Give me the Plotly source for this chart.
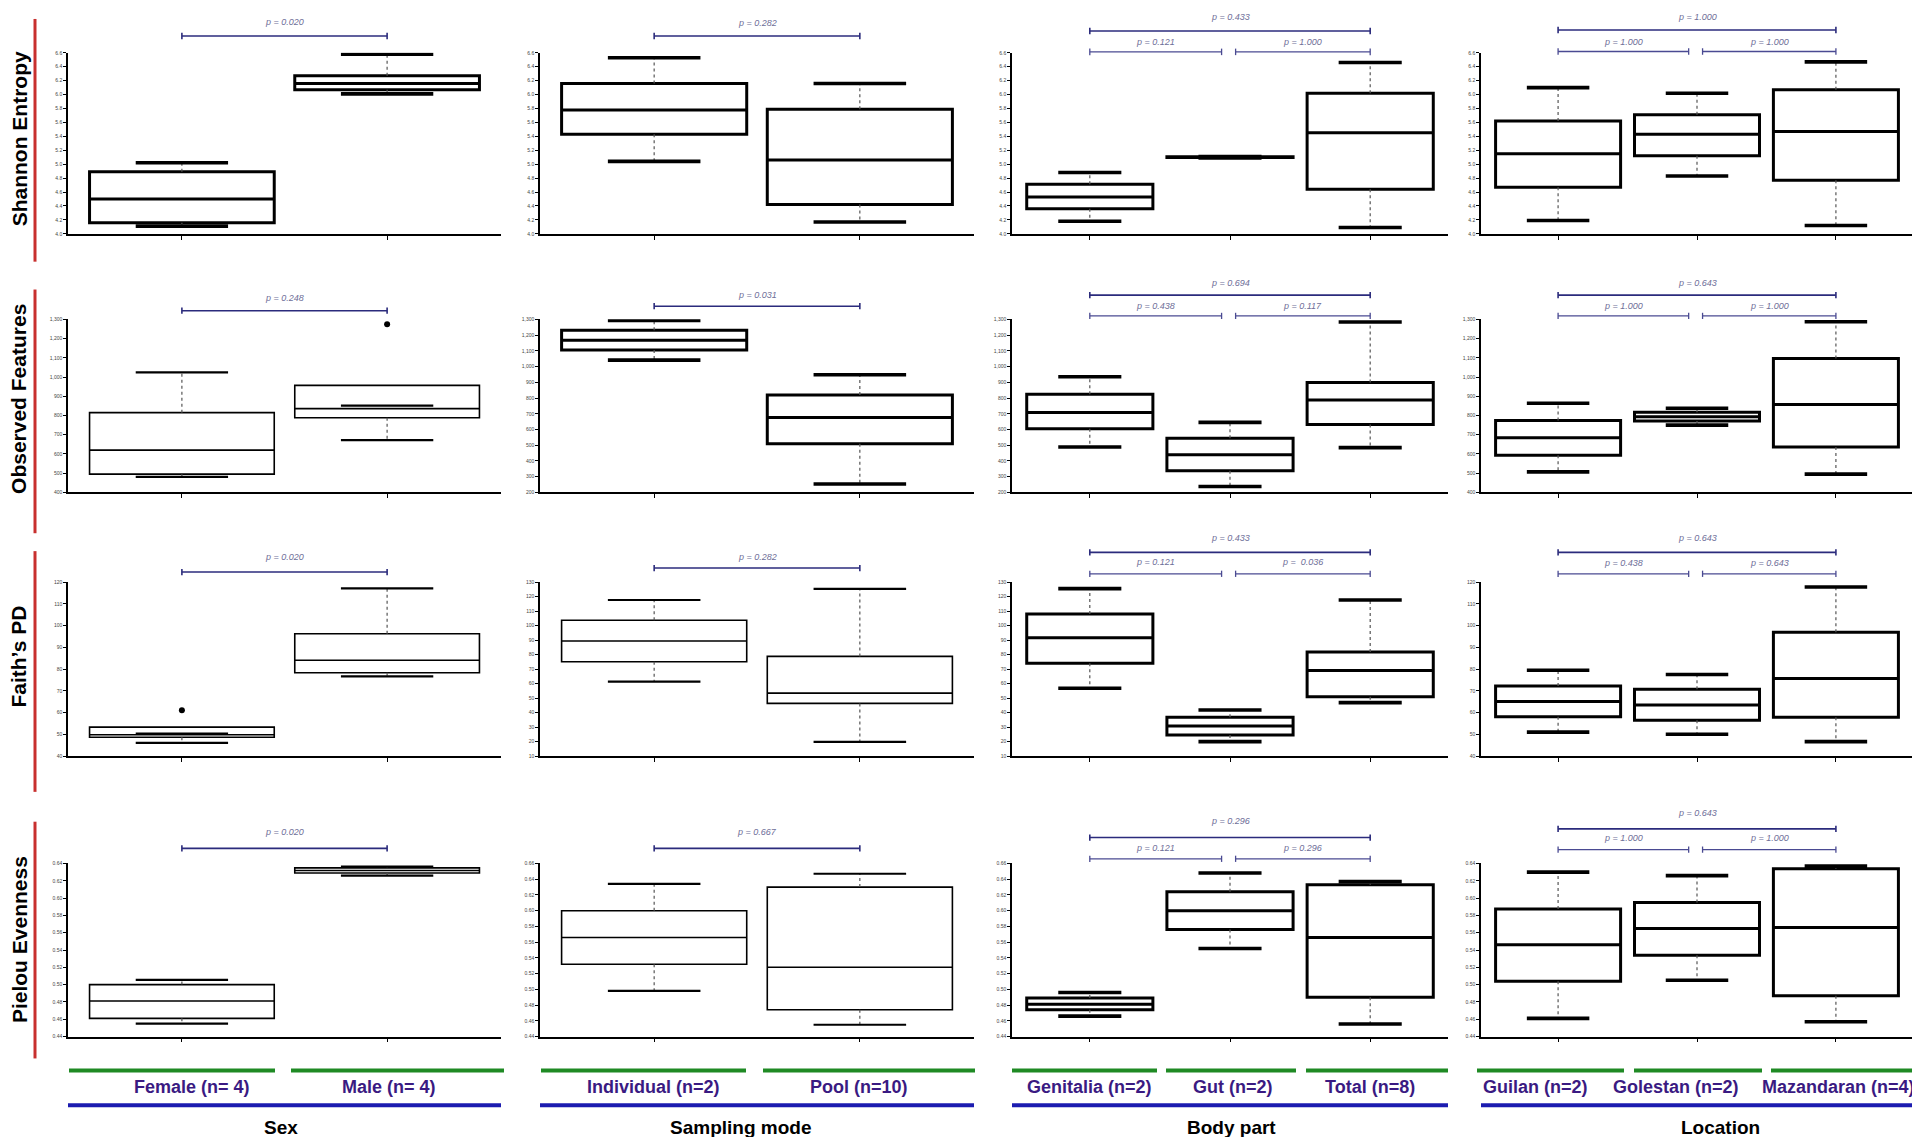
import plotly.graph_objects as go

W, H = 1920, 1137

# ---------------- data ----------------
factors = ["Sex", "Sampling mode", "Body part", "Location"]
groups = [
    ["Female (n= 4)", "Male (n= 4)"],
    ["Individual (n=2)", "Pool (n=10)"],
    ["Genitalia (n=2)", "Gut (n=2)", "Total (n=8)"],
    ["Guilan (n=2)", "Golestan (n=2)", "Mazandaran (n=4)"],
]
metrics = ["Shannon Entropy", "Observed Features", "Faith\u2019s PD", "Pielou Evenness"]

# one inner list per factor (Sex, Sampling mode, Body part, Location)
shannon_lo = [[4.11, 6.01], [5.04, 4.17], [4.18, 5.09, 4.09], [4.19, 4.83, 4.12]]
shannon_q1 = [[4.16, 6.07], [5.43, 4.42], [4.36, 5.095, 4.64], [4.67, 5.12, 4.77]]
shannon_med = [[4.50, 6.16], [5.78, 5.06], [4.53, 5.10, 5.45], [5.15, 5.43, 5.47]]
shannon_q3 = [[4.89, 6.27], [6.16, 5.79], [4.71, 5.105, 6.02], [5.62, 5.71, 6.07]]
shannon_hi = [[5.02, 6.58], [6.53, 6.16], [4.88, 5.11, 6.46], [6.10, 6.02, 6.47]]

observed_lo = [[481, 672], [1041, 253], [489, 238, 485], [507, 750, 495]]
observed_q1 = [[495, 788], [1106, 510], [605, 337, 632], [593, 771, 636]]
observed_med = [[620, 836], [1167, 676], [708, 440, 788], [684, 793, 857]]
observed_q3 = [[815, 957], [1231, 820], [824, 544, 898], [774, 817, 1097]]
observed_hi = [[1024, 851], [1294, 948], [935, 645, 1283], [864, 838, 1288]]

faith_lo = [[46.0, 76.6], [61.3, 19.7], [56.7, 19.9, 46.8], [51.0, 50.0, 46.6]]
faith_q1 = [[48.6, 78.3], [75.0, 46.3], [73.9, 24.5, 50.9], [58.1, 56.4, 57.8]]
faith_med = [[49.8, 84.0], [89.3, 53.4], [91.6, 30.7, 68.9], [65.1, 63.4, 75.6]]
faith_q3 = [[53.3, 96.2], [103.6, 78.7], [107.9, 36.7, 81.7], [72.2, 70.7, 96.9]]
faith_hi = [[50.3, 117.1], [117.6, 125.2], [125.4, 41.7, 117.6], [79.4, 77.5, 117.7]]

pielou_lo = [[0.455, 0.626], [0.498, 0.455], [0.466, 0.552, 0.456], [0.461, 0.505, 0.457]]
pielou_q1 = [[0.461, 0.629], [0.532, 0.474], [0.474, 0.576, 0.490], [0.504, 0.534, 0.487]]
pielou_med = [[0.481, 0.632], [0.566, 0.528], [0.481, 0.600, 0.566], [0.546, 0.565, 0.566]]
pielou_q3 = [[0.500, 0.635], [0.600, 0.630], [0.489, 0.624, 0.633], [0.5875, 0.595, 0.634]]
pielou_hi = [[0.5055, 0.6365], [0.634, 0.647], [0.496, 0.648, 0.637], [0.630, 0.626, 0.637]]

# outliers: metric row, factor column, group index, value
outlier_row = [1, 2]
outlier_col = [0, 0]
outlier_grp = [1, 0]
outlier_val = [1275, 61.0]

# y tick ranges (min, max, step) per metric / factor
shannon_ticks = [(4.0, 6.6, 0.2)] * 4
observed_ticks = [(400, 1300, 100), (200, 1300, 100), (200, 1300, 100), (400, 1300, 100)]
faith_ticks = [(40, 120, 10), (10, 130, 10), (10, 130, 10), (40, 120, 10)]
pielou_ticks = [(0.44, 0.64, 0.02), (0.44, 0.66, 0.02), (0.44, 0.66, 0.02), (0.44, 0.64, 0.02)]
tick_formats = [".1f", ",d", "d", ".2f"]

# p values: 2 groups -> [p]; 3 groups -> [outer, left, right]
pvals = [
    [["0.020"], ["0.282"], ["0.433", "0.121", "1.000"], ["1.000", "1.000", "1.000"]],
    [["0.248"], ["0.031"], ["0.694", "0.438", "0.117"], ["0.643", "1.000", "1.000"]],
    [["0.020"], ["0.282"], ["0.433", "0.121", " 0.036"], ["0.643", "0.438", "0.643"]],
    [["0.020"], ["0.667"], ["0.296", "0.121", "0.296"], ["0.643", "1.000", "1.000"]],
]

stats = [
    (shannon_lo, shannon_q1, shannon_med, shannon_q3, shannon_hi, shannon_ticks),
    (observed_lo, observed_q1, observed_med, observed_q3, observed_hi, observed_ticks),
    (faith_lo, faith_q1, faith_med, faith_q3, faith_hi, faith_ticks),
    (pielou_lo, pielou_q1, pielou_med, pielou_q3, pielou_hi, pielou_ticks),
]

# ---------------- layout / style ----------------
x_dom_px = [(60, 493), (532, 966), (1004, 1440), (1473, 1905)]
y_dom_px = [(42, 224), (310, 484), (574, 749), (857, 1031)]
thick = [[1, 1, 1, 1], [0, 1, 1, 1], [0, 0, 1, 1], [0, 0, 1, 1]]
# bracket heights in y-domain units: pair line, pair text, outer line, outer text, inner line, inner text
br_levels = [
    [(1.093, 1.17, 0, 0, 0, 0), (1.093, 1.165, 0, 0, 0, 0), (0, 0, 1.12, 1.20, 1.005, 1.06), (0, 0, 1.126, 1.20, 1.007, 1.06)],
    [(1.05, 1.126, 0, 0, 0, 0), (1.076, 1.14, 0, 0, 0, 0), (0, 0, 1.14, 1.21, 1.02, 1.076), (0, 0, 1.14, 1.21, 1.02, 1.076)],
    [(1.057, 1.143, 0, 0, 0, 0), (1.08, 1.143, 0, 0, 0, 0), (0, 0, 1.17, 1.25, 1.047, 1.114), (0, 0, 1.17, 1.25, 1.047, 1.11)],
    [(1.087, 1.18, 0, 0, 0, 0), (1.087, 1.18, 0, 0, 0, 0), (0, 0, 1.15, 1.247, 1.027, 1.087), (0, 0, 1.20, 1.29, 1.08, 1.146)],
]
row_label_y = [129, 390, 649, 934]
red_bars = [(8, 252), (280, 525), (543, 785), (815, 1053)]
green_segs = [(61, 267), (283, 496), (533, 738), (755, 967), (1004, 1149), (1158, 1288),
              (1298, 1440), (1469, 1616), (1626, 1754), (1763, 1905)]
label_x = [184, 381, 645, 851, 1081, 1225, 1362, 1527, 1668, 1830]
factor_x = [273, 732, 1223, 1712]

FONT = "Liberation Sans, Arial, sans-serif"


def px(x):
    return x / W


def py(y):
    return 1 - y / H


fig = go.Figure()
layout = {}
shapes = []
annotations = []

for r in range(4):
    lo, q1, med, q3, hi, ticks = stats[r]
    for c in range(4):
        k = r * 4 + c + 1
        xa = "x" if k == 1 else f"x{k}"
        ya = "y" if k == 1 else f"y{k}"
        n = len(groups[c])
        pos = list(range(n))
        lw = 3 if thick[r][c] else 1.6
        cw = 3.6 if thick[r][c] else 2.2

        fig.add_trace(go.Box(
            x=pos, q1=q1[c], median=med[c], q3=q3[c],
            lowerfence=q1[c], upperfence=q3[c],
            orientation="v", width=0.9, whiskerwidth=0,
            fillcolor="white", line=dict(color="black", width=lw),
            xaxis=xa, yaxis=ya, showlegend=False, hoverinfo="skip",
        ))

        sx, sy, cx, cy = [], [], [], []
        for i in pos:
            if hi[c][i] > q3[c][i]:
                sx += [i, i, None]
                sy += [q3[c][i], hi[c][i], None]
            if lo[c][i] < q1[c][i]:
                sx += [i, i, None]
                sy += [q1[c][i], lo[c][i], None]
            for v in (hi[c][i], lo[c][i]):
                cx += [i - 0.225, i + 0.225, None]
                cy += [v, v, None]
        fig.add_trace(go.Scatter(x=sx, y=sy, mode="lines", xaxis=xa, yaxis=ya,
                                 line=dict(color="#555555", width=1.2, dash="dot"),
                                 showlegend=False, hoverinfo="skip"))
        fig.add_trace(go.Scatter(x=cx, y=cy, mode="lines", xaxis=xa, yaxis=ya,
                                 line=dict(color="black", width=cw),
                                 showlegend=False, hoverinfo="skip"))

        t0, t1, step = ticks[c]
        x0, x1 = x_dom_px[c]
        y0, y1 = y_dom_px[r]
        layout["xaxis" if k == 1 else f"xaxis{k}"] = dict(
            domain=[px(x0), px(x1)], range=[-0.555, n - 1 + 0.555], anchor=ya,
            showline=True, linecolor="black", linewidth=1.5, tickvals=pos,
            ticktext=[""] * n, ticks="outside", ticklen=4, tickcolor="black",
            showgrid=False, zeroline=False,
        )
        layout["yaxis" if k == 1 else f"yaxis{k}"] = dict(
            domain=[py(y1), py(y0)], range=[t0 - step * 0.002, t1 + step * 0.002],
            anchor=xa, tickmode="linear", tick0=t0, dtick=step,
            tickformat=tick_formats[r], showline=True, linecolor="black",
            linewidth=1.5, ticks="outside", ticklen=3, tickcolor="black",
            tickfont=dict(size=5, color="#444444", family=FONT),
            showgrid=False, zeroline=False,
        )

        # significance brackets
        yd = f"{ya} domain"
        lv = br_levels[r][c]
        if n == 2:
            pairs = [(0, 1, lv[0], lv[1], pvals[r][c][0], "#2b2b7c", 1.6)]
        else:
            pairs = [
                (0, 2, lv[2], lv[3], pvals[r][c][0], "#2b2b7c", 1.6),
                (0, 0.94, lv[4], lv[5], pvals[r][c][1], "#4a4a92", 1.3),
                (1.04, 2, lv[4], lv[5], pvals[r][c][2], "#4a4a92", 1.3),
            ]
        for a, b, yl, yt, ptxt, col, w in pairs:
            shapes.append(dict(type="line", xref=xa, yref=yd, x0=a, x1=b, y0=yl, y1=yl,
                               line=dict(color=col, width=w)))
            for e in (a, b):
                shapes.append(dict(type="line", xref=xa, yref=yd, x0=e, x1=e,
                                   y0=yl - 0.018, y1=yl + 0.018,
                                   line=dict(color=col, width=w)))
            annotations.append(dict(
                xref=xa, yref=yd, x=(a + b) / 2, y=yt, text=f"<i>p = {ptxt}</i>",
                showarrow=False, xanchor="center", yanchor="middle",
                font=dict(size=9, color="#6e6e98", family=FONT),
            ))

for rr, cc, gi, v in zip(outlier_row, outlier_col, outlier_grp, outlier_val):
    k = rr * 4 + cc + 1
    fig.add_trace(go.Scatter(x=[gi], y=[v], mode="markers",
                             xaxis="x" if k == 1 else f"x{k}",
                             yaxis="y" if k == 1 else f"y{k}",
                             marker=dict(color="black", size=6),
                             showlegend=False, hoverinfo="skip"))

# row labels with red bars
for r, name in enumerate(metrics):
    annotations.append(dict(
        xref="paper", yref="paper", x=px(11), y=py(row_label_y[r]),
        xanchor="center", yanchor="middle",
        text=f"<b>{name}</b>", textangle=-90, showarrow=False,
        font=dict(size=21, color="black", family=FONT),
    ))
    b0, b1 = red_bars[r]
    shapes.append(dict(type="line", xref="paper", yref="paper", x0=px(27), x1=px(27),
                       y0=py(b0), y1=py(b1), line=dict(color="#c8302f", width=3)))

# bottom group labels
flat_labels = [g for grp in groups for g in grp]
for (a, b), lx, txt in zip(green_segs, label_x, flat_labels):
    shapes.append(dict(type="line", xref="paper", yref="paper", x0=px(a), x1=px(b),
                       y0=py(1065), y1=py(1065), line=dict(color="#1f8a24", width=4)))
    annotations.append(dict(
        xref="paper", yref="paper", x=px(lx), y=py(1082), text=f"<b>{txt}</b>",
        xanchor="center", yanchor="middle",
        showarrow=False, font=dict(size=18, color="#3a1a82", family=FONT),
    ))
for c, name in enumerate(factors):
    a, b = x_dom_px[c]
    shapes.append(dict(type="line", xref="paper", yref="paper", x0=px(a), x1=px(b),
                       y0=py(1100), y1=py(1100), line=dict(color="#1c1cb0", width=4)))
    annotations.append(dict(
        xref="paper", yref="paper", x=px(factor_x[c]), y=py(1122), text=f"<b>{name}</b>",
        xanchor="center", yanchor="middle",
        showarrow=False, font=dict(size=19, color="black", family=FONT),
    ))

fig.update_layout(
    width=W, height=H,
    margin=dict(l=0, r=0, t=0, b=0),
    paper_bgcolor="white", plot_bgcolor="white",
    font=dict(family=FONT),
    shapes=shapes, annotations=annotations,
    **layout,
)

fig.write_html("out.html")
